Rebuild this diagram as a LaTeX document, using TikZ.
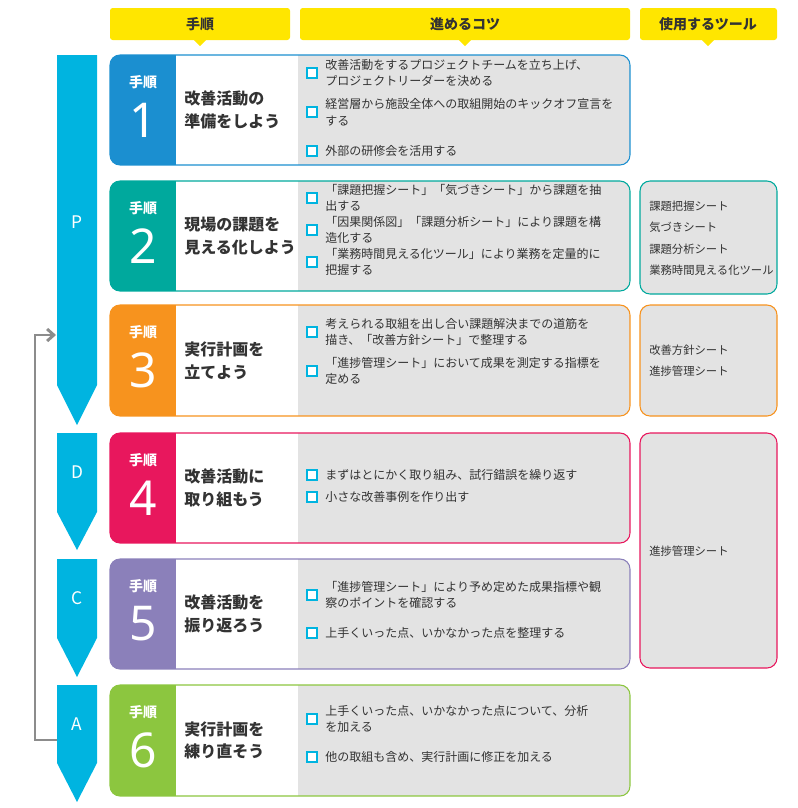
\documentclass[tikz,border=0pt]{standalone}
\usepackage{fontspec}
\setmainfont{Noto Sans CJK JP}
\newfontfamily\numfont{Noto Sans}
\usetikzlibrary{arrows.meta}
\definecolor{yel}{HTML}{FFE600}
\definecolor{cy}{HTML}{00B4E0}
\definecolor{gr}{HTML}{E3E3E3}
\definecolor{c1}{HTML}{1B8FD0}
\definecolor{c2}{HTML}{00A99D}
\definecolor{c3}{HTML}{F7931E}
\definecolor{c4}{HTML}{E8175D}
\definecolor{c5}{HTML}{8B80BA}
\definecolor{c6}{HTML}{8CC63F}
\definecolor{tx}{HTML}{333333}
\tikzset{
 hdr/.style={fill=yel,rounded corners=2pt},
 hdrtext/.style={font=\bfseries\fontsize{10.5}{12}\selectfont,text=tx},
 tip/.style={anchor=west,align=left,font=\fontsize{9}{12.5}\selectfont,text=tx,inner sep=0},
 tool/.style={anchor=west,font=\fontsize{8.5}{10}\selectfont,text=tx,inner sep=0},
 chk/.style={draw=cy,line width=1pt,fill=white},
 ttl/.style={anchor=west,align=left,font=\bfseries\fontsize{12}{17}\selectfont,text=tx,inner sep=0},
 pdca/.style={fill=cy},
 pl/.style={text=white,font=\fontsize{13}{14}\selectfont}
}
\newcommand{\stp}[6]{% y1 y2 color num title name
 \begin{scope}
 \clip[rounded corners=7.5pt] (110,#1) rectangle (630,#2);
 \fill[gr] (110,#1) rectangle (630,#2);
 \fill[white] (176,#1) rectangle (298,#2);
 \fill[#3] (110,#1) rectangle (176,#2);
 \end{scope}
 \draw[#3,line width=0.8pt,rounded corners=7.5pt] (110,#1) rectangle (630,#2);
 \node[text=white,font=\bfseries\fontsize{10.5}{12}\selectfont] (#6l) at (143,{(#1+#2)/2-28}) {手順};
 \node[text=white,font=\numfont\fontsize{36}{36}\selectfont] (#6n) at (143,{(#1+#2)/2+10}) {#4};
 \node[ttl] (#6t) at (184,{(#1+#2)/2}) {#5};
}
\newcommand{\itm}[3]{% y text name
 \draw[chk] (307,{#1-5}) rectangle (317,{#1+5});
 \node[tip] (#3) at (325,#1) {#2};
}
\begin{document}
\begin{tikzpicture}[x=0.75pt,y=-0.75pt]
\useasboundingbox (0,0) rectangle (798,808);
% headers
\fill[hdr] (110,8) rectangle (290,40);
\fill[yel] (194,40) -- (206,40) -- (200,46) -- cycle;
\node[hdrtext] (h1) at (200,24) {手順};
\fill[hdr] (300,8) rectangle (630,40);
\fill[yel] (459,40) -- (471,40) -- (465,46) -- cycle;
\node[hdrtext] (h2) at (465,24) {進めるコツ};
\fill[hdr] (640,8) rectangle (777,40);
\fill[yel] (702,40) -- (714,40) -- (708,46) -- cycle;
\node[hdrtext] (h3) at (708,24) {使用するツール};
% PDCA arrows
\fill[pdca] (57,55) -- (97,55) -- (97,385) -- (77,425) -- (57,385) -- cycle;
\node[pl] (P) at (77,222) {P};
\fill[pdca] (57,433) -- (97,433) -- (97,512) -- (77,550) -- (57,512) -- cycle;
\node[pl] (D) at (77,472) {D};
\fill[pdca] (57,559) -- (97,559) -- (97,638) -- (77,677) -- (57,638) -- cycle;
\node[pl] (C) at (77,598) {C};
\fill[pdca] (57,685) -- (97,685) -- (97,763) -- (77,802) -- (57,763) -- cycle;
\node[pl] (A) at (77,724) {A};
\coordinate (ra) at (57,740);
\coordinate (rb) at (56,335);
\draw[gray!90,line width=2.2pt,-{Straight Barb[length=5pt,width=9pt]}] (ra) -- (35,740) |- (rb);
% steps
\stp{55}{165}{c1}{1}{改善活動の\\準備をしよう}{s1}
\itm{73}{改善活動をするプロジェクトチームを立ち上げ、\\プロジェクトリーダーを決める}{i11}
\itm{112}{経営層から施設全体への取組開始のキックオフ宣言を\\する}{i12}
\itm{151}{外部の研修会を活用する}{i13}
\stp{181}{291}{c2}{2}{現場の課題を\\見える化しよう}{s2}
\itm{198}{「課題把握シート」「気づきシート」から課題を抽\\出する}{i21}
\itm{230}{「因果関係図」「課題分析シート」により課題を構\\造化する}{i22}
\itm{262}{「業務時間見える化ツール」により業務を定量的に\\把握する}{i23}
\stp{305}{416}{c3}{3}{実行計画を\\立てよう}{s3}
\itm{332}{考えられる取組を出し合い課題解決までの道筋を\\描き、「改善方針シート」で整理する}{i31}
\itm{371}{「進捗管理シート」において成果を測定する指標を\\定める}{i32}
\stp{433}{543}{c4}{4}{改善活動に\\取り組もう}{s4}
\itm{475}{まずはとにかく取り組み、試行錯誤を繰り返す}{i41}
\itm{497}{小さな改善事例を作り出す}{i42}
\stp{559}{669}{c5}{5}{改善活動を\\振り返ろう}{s5}
\itm{595}{「進捗管理シート」により予め定めた成果指標や観\\察のポイントを確認する}{i51}
\itm{633}{上手くいった点、いかなかった点を整理する}{i52}
\stp{685}{796}{c6}{6}{実行計画を\\練り直そう}{s6}
\itm{719}{上手くいった点、いかなかった点について、分析\\を加える}{i61}
\itm{757}{他の取組も含め、実行計画に修正を加える}{i62}
% tools
\draw[c2,fill=gr,line width=0.8pt,rounded corners=7.5pt] (640,181) rectangle (777,294);
\node[tool] (t21) at (649,206) {課題把握シート};
\node[tool] (t22) at (649,227) {気づきシート};
\node[tool] (t23) at (649,249) {課題分析シート};
\node[tool] (t24) at (649,270) {業務時間見える化ツール};
\draw[c3,fill=gr,line width=0.8pt,rounded corners=7.5pt] (640,305) rectangle (777,416);
\node[tool] (t31) at (649,350) {改善方針シート};
\node[tool] (t32) at (649,371) {進捗管理シート};
\draw[c4,fill=gr,line width=0.8pt,rounded corners=7.5pt] (640,433) rectangle (777,668);
\node[tool] (t41) at (649,551) {進捗管理シート};
\end{tikzpicture}
\end{document}
